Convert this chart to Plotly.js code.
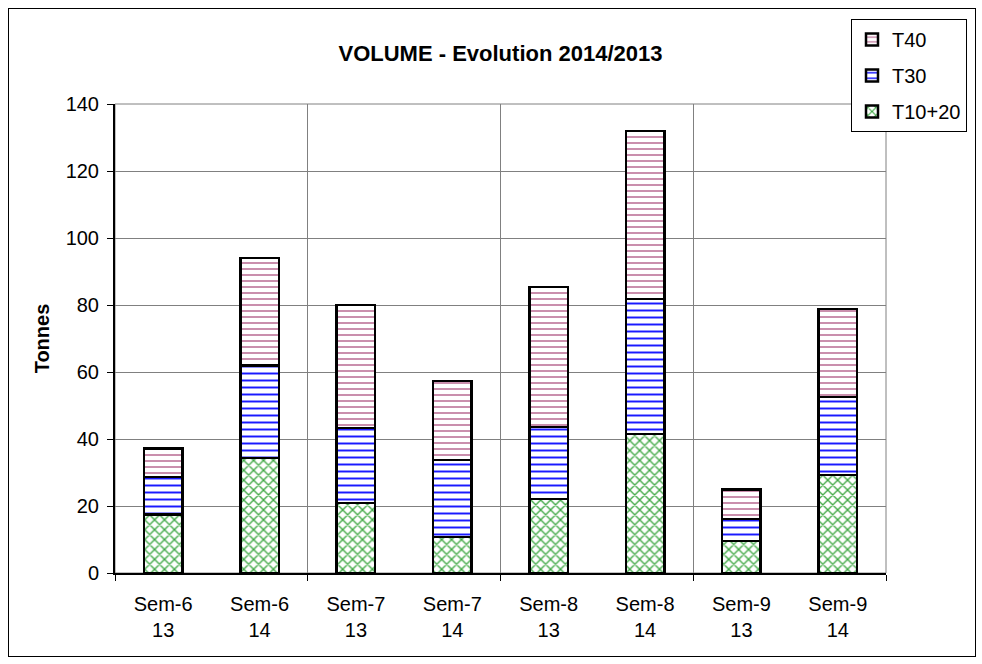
<!DOCTYPE html>
<html><head><meta charset="utf-8">
<script src="https://cdn.plot.ly/plotly-3.0.1.min.js"></script>
<style>
body{margin:0;padding:0;background:#fff;}
#wrap{position:relative;width:982px;height:664px;}
#frame{position:absolute;left:8px;top:8px;width:966px;height:647px;border:1px solid #000;pointer-events:none;}
</style></head>
<body>
<div id="wrap"><div id="chart" style="width:982px;height:664px;"></div><div id="frame"></div></div>
<script>
var categories = ['Sem-6<br>13','Sem-6<br>14','Sem-7<br>13','Sem-7<br>14','Sem-8<br>13','Sem-8<br>14','Sem-9<br>13','Sem-9<br>14'];
var t1020 = [17.5, 34.4, 20.9, 10.7, 22.1, 41.5, 9.6, 29.3];
var t30   = [11.2, 27.6, 22.4, 23.0, 21.5, 40.3, 6.5, 23.2];
var t40   = [8.5, 32.0, 36.7, 23.6, 41.8, 50.2, 8.9, 26.3];
var yTicks = [0,20,40,60,80,100,120,140];

var xpos = categories.map(function(c,i){return i;});
var font = 'Liberation Sans, Arial, sans-serif';

function trace(name, vals, shape, fg, sz, sol, group, rank){
  return {type:'bar', name:name, x:xpos, y:vals, width:0.4, legendgroup:group, legendrank:rank,
    marker:{color:'#ffffff', line:{color:'#000', width:2.5},
      pattern:{shape:shape, fgcolor:fg, bgcolor:'#ffffff', fgopacity:1, size:sz, solidity:sol, fillmode:'replace'}},
    hoverinfo:'y'};
}
var data = [
  trace('T10+20', t1020, 'x', '#3fa845', 7, 0.35, 'a', 3),
  trace('T30', t30, '-', '#1a1aff', 7, 0.28, 'b', 2),
  trace('T40', t40, '-', '#b86a92', 6, 0.25, 'c', 1)
];
var layout = {
  width:982, height:664, barmode:'stack',
  margin:{l:115, r:96, t:104, b:91},
  paper_bgcolor:'#fff', plot_bgcolor:'#fff',
  font:{family:font, size:20, color:'#000'},
  title:{text:'<b>VOLUME - Evolution 2014/2013</b>', font:{family:font, size:22, color:'#000'}, x:0.5, xref:'paper', xanchor:'center', y:1-53/664, yanchor:'middle'},
  xaxis:{range:[-0.5,7.5], tickvals:xpos, ticktext:categories, ticks:'', showgrid:false, zeroline:false,
    showline:true, linecolor:'#000', linewidth:2, ticklabelstandoff:12,
    tickfont:{family:font, size:20, color:'#000'},
    minor:{tick0:-0.5, dtick:2, ticks:'outside', ticklen:6, tickcolor:'#000', tickwidth:1, showgrid:true, gridcolor:'#808080', gridwidth:1}},
  yaxis:{range:[0,140], tickvals:yTicks, ticks:'outside', ticklen:6, tickcolor:'#000', showline:true, linecolor:'#000', linewidth:2,
    showgrid:true, gridcolor:'#808080', gridwidth:1, zeroline:false, ticklabelstandoff:4,
    tickfont:{family:font, size:20, color:'#000'},
    title:{text:'<b>Tonnes</b>', font:{family:font, size:20, color:'#000'}, standoff:11}},
  shapes:[{type:'rect', xref:'paper', yref:'paper', x0:0, x1:1, y0:0, y1:1, line:{color:'#808080', width:1}, layer:'below'}],
  legend:{x:(851-115)/771, y:(573-19)/469, xanchor:'left', yanchor:'top', traceorder:'grouped', tracegroupgap:7,
    bordercolor:'#000', borderwidth:1, bgcolor:'#fff', font:{family:font, size:20, color:'#000'}}
};
Plotly.newPlot('chart', data, layout, {displayModeBar:false, staticPlot:true});
</script>
</body></html>
